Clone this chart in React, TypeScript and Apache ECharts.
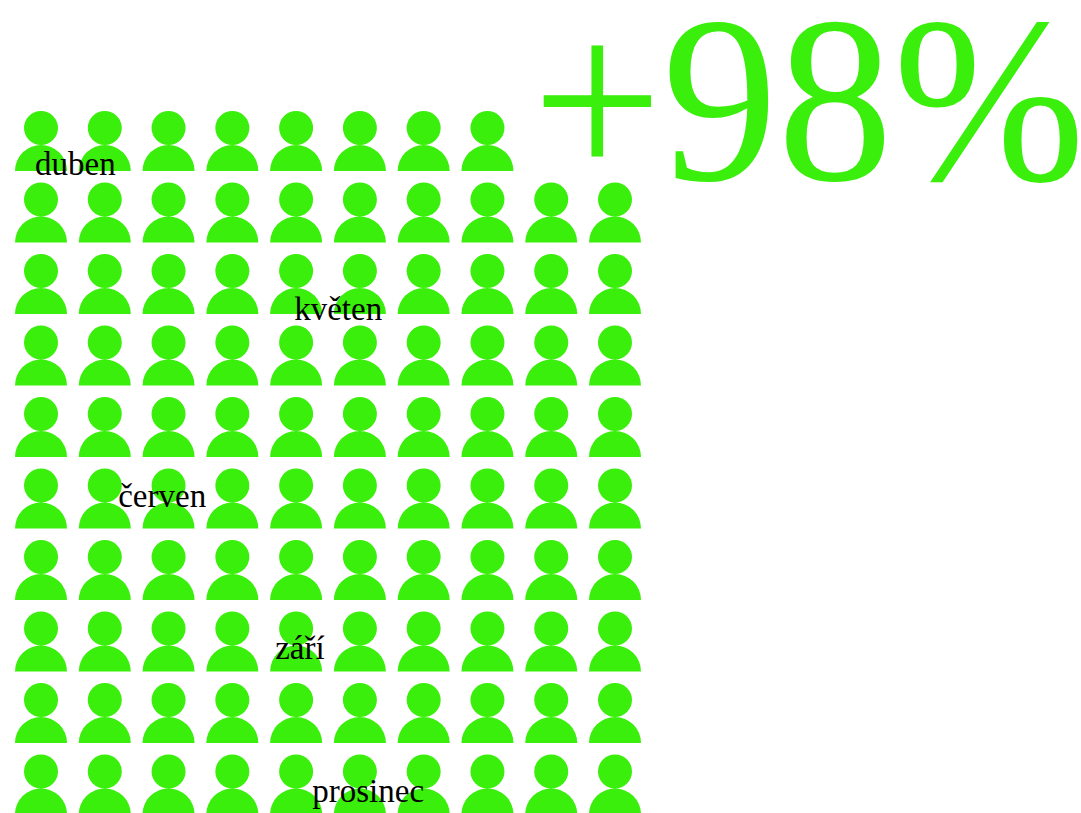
import React, { useEffect, useRef } from "react";
import * as echarts from "echarts";

const rowCounts = [8, 10, 10, 10, 10, 10, 10, 10, 10, 10];
const headline = "+98%";
const monthNames = ["duben", "květen", "červen", "září", "prosinec"];
const monthColumns = [0.54, 4.66, 1.9, 4.06, 5.13];
const monthRows = [0.325, 2.345, 4.965, 7.085, 9.085];

const GREEN = "#3aef0b";
const SERIF = '"Liberation Serif", serif';
const PERSON =
  "path://M9 17a17 17 0 1 0 34 0a17 17 0 1 0 -34 0ZM0 60a26 26 0 0 1 52 0Z";

export default function App() {
  const ref = useRef<HTMLDivElement>(null);
  useEffect(() => {
    document.body.style.margin = "0";
    const chart = echarts.init(ref.current!, null, { renderer: "svg" });
    const cells: number[][] = [];
    rowCounts.forEach((count, row) => {
      for (let col = 0; col < count; col++) cells.push([col, row]);
    });
    chart.setOption({
      animation: false,
      backgroundColor: "#ffffff",
      grid: { left: 41, top: 141, width: 574, height: 643.5 },
      xAxis: { type: "value", min: 0, max: 9, show: false },
      yAxis: { type: "value", min: 0, max: 9, inverse: true, show: false },
      graphic: [
        {
          type: "text",
          x: 1085,
          y: -18,
          scaleX: 0.973,
          style: {
            text: headline,
            fill: GREEN,
            font: `237px ${SERIF}`,
            textAlign: "right",
            textVerticalAlign: "top",
          },
        },
      ],
      series: [
        {
          type: "scatter",
          data: cells,
          symbol: PERSON,
          symbolSize: [52, 60],
          itemStyle: { color: GREEN, opacity: 1 },
          silent: true,
          clip: false,
        },
        {
          type: "scatter",
          data: monthNames.map((name, i) => ({
            name,
            value: [monthColumns[i], monthRows[i]],
          })),
          symbolSize: 1,
          itemStyle: { color: "transparent", opacity: 1 },
          z: 5,
          silent: true,
          clip: false,
          label: {
            show: true,
            position: "inside",
            formatter: "{b}",
            color: "#000000",
            fontFamily: SERIF,
            fontSize: 33,
          },
        },
      ],
    });
    return () => chart.dispose();
  }, []);
  return (
    <div
      ref={ref}
      style={{ position: "absolute", left: 0, top: 0, width: 1081, height: 813 }}
    />
  );
}
